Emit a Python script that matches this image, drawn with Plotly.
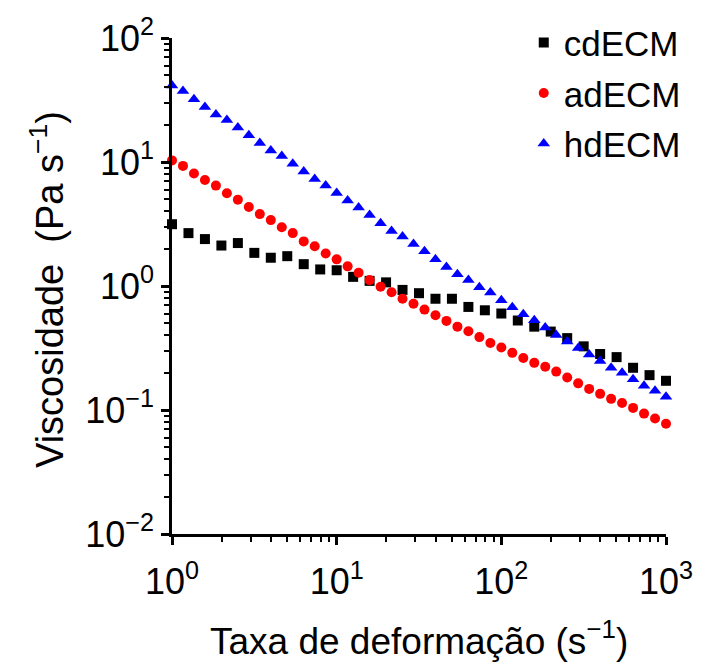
import numpy as np
import plotly.graph_objects as go

# Shear rates
x_cd = [10 ** (j / 10) for j in range(31)]
x_ad = [10 ** (i / 15) for i in range(46)]
x_hd = [10 ** (i / 15) for i in range(46)]

cdECM = [3.15, 2.67, 2.39, 2.12, 2.22, 1.85, 1.69, 1.74, 1.50, 1.36,
         1.34, 1.185, 1.10, 1.07, 0.930, 0.875, 0.789, 0.789, 0.678, 0.637,
         0.600, 0.527, 0.470, 0.429, 0.380, 0.326, 0.283, 0.267, 0.219, 0.191,
         0.172]

adECM = [10.3, 9.30, 8.07, 7.16, 6.45, 5.60, 4.97, 4.34, 3.80, 3.40,
         2.98, 2.67, 2.29, 2.09, 1.83, 1.64, 1.44, 1.28, 1.116, 0.987,
         0.891, 0.789, 0.720, 0.645, 0.581, 0.523, 0.470, 0.431, 0.387, 0.347,
         0.319, 0.289, 0.263, 0.240, 0.223, 0.204, 0.183, 0.164, 0.148, 0.135,
         0.123, 0.114, 0.104, 0.0935, 0.0853, 0.0774]

hdECM = [41.4, 37.3, 32.0, 27.8, 24.2, 21.8, 18.96, 16.4, 14.2, 12.4,
         11.2, 9.69, 8.38, 7.29, 6.45, 5.62, 4.90, 4.29, 3.73, 3.20,
         2.78, 2.51, 2.18, 1.91, 1.64, 1.42, 1.245, 1.116, 0.977, 0.888,
         0.767, 0.675, 0.592, 0.530, 0.462, 0.403, 0.357, 0.316, 0.280, 0.248,
         0.219, 0.200, 0.177, 0.157, 0.143, 0.128]

x_tickvals = [1, 10, 100, 1000]
x_ticktext = ["10<sup>0</sup>", "10<sup>1</sup>", "10<sup>2</sup>", "10<sup>3</sup>"]
y_tickvals = [0.01, 0.1, 1, 10, 100]
y_ticktext = ["10<sup>\u22122</sup>", "10<sup>\u22121</sup>", "10<sup>0</sup>",
              "10<sup>1</sup>", "10<sup>2</sup>"]

x_minor = [m * d for d in [1, 10, 100] for m in range(2, 10)]
y_minor = [m * d for d in [0.01, 0.1, 1, 10] for m in range(2, 10)]

FONT = "Liberation Sans, Arial, sans-serif"

fig = go.Figure()
fig.add_trace(go.Scatter(x=x_cd, y=cdECM, mode="markers", name="cdECM",
                         legendgroup="a", cliponaxis=False,
                         marker=dict(symbol="square", size=10, color="black")))
fig.add_trace(go.Scatter(x=x_ad, y=adECM, mode="markers", name="adECM",
                         legendgroup="b", cliponaxis=False,
                         marker=dict(symbol="circle", size=10, color="#ff0000")))
fig.add_trace(go.Scatter(x=x_hd, y=hdECM, mode="markers", name="hdECM",
                         legendgroup="c", cliponaxis=False,
                         marker=dict(symbol="triangle-up", size=11, color="#0000ff")))

axis_common = dict(
    type="log", showgrid=False, zeroline=False, showline=True,
    linecolor="black", linewidth=2.5, ticks="outside", ticklen=8,
    tickwidth=2.5, tickcolor="black", mirror=False,
    tickfont=dict(family=FONT, size=36, color="black"),
)

fig.update_xaxes(range=[0, 3], tickvals=x_tickvals, ticktext=x_ticktext,
                 ticklabelstandoff=6,
                 minor=dict(tickvals=x_minor, ticks="outside", ticklen=5,
                            tickwidth=1.8, tickcolor="black", showgrid=False),
                 **axis_common)
fig.update_yaxes(range=[-2, 2], tickvals=y_tickvals, ticktext=y_ticktext,
                 minor=dict(tickvals=y_minor, ticks="outside", ticklen=5,
                            tickwidth=1.8, tickcolor="black", showgrid=False),
                 **axis_common)

fig.add_annotation(text="Taxa de deformação (s<sup>\u22121</sup>)",
                   xref="paper", yref="paper", x=0.5, y=-0.21,
                   xanchor="center", yanchor="middle", showarrow=False,
                   font=dict(family=FONT, size=37, color="black"))
fig.add_annotation(text="Viscosidade  (Pa s<sup>\u22121</sup>)",
                   xref="paper", yref="paper", x=-0.253, y=0.492,
                   xanchor="center", yanchor="middle", showarrow=False,
                   textangle=-90,
                   font=dict(family=FONT, size=38, color="black"))

fig.update_layout(
    width=705, height=666,
    margin=dict(l=172, r=32, t=30, b=132),
    paper_bgcolor="white", plot_bgcolor="white",
    showlegend=True,
    legend=dict(x=1.04, y=1.05, xanchor="right", yanchor="top",
                font=dict(family=FONT, size=35, color="black"),
                bgcolor="rgba(0,0,0,0)", tracegroupgap=2,
                itemwidth=30),
)

fig.write_html("out.html")
